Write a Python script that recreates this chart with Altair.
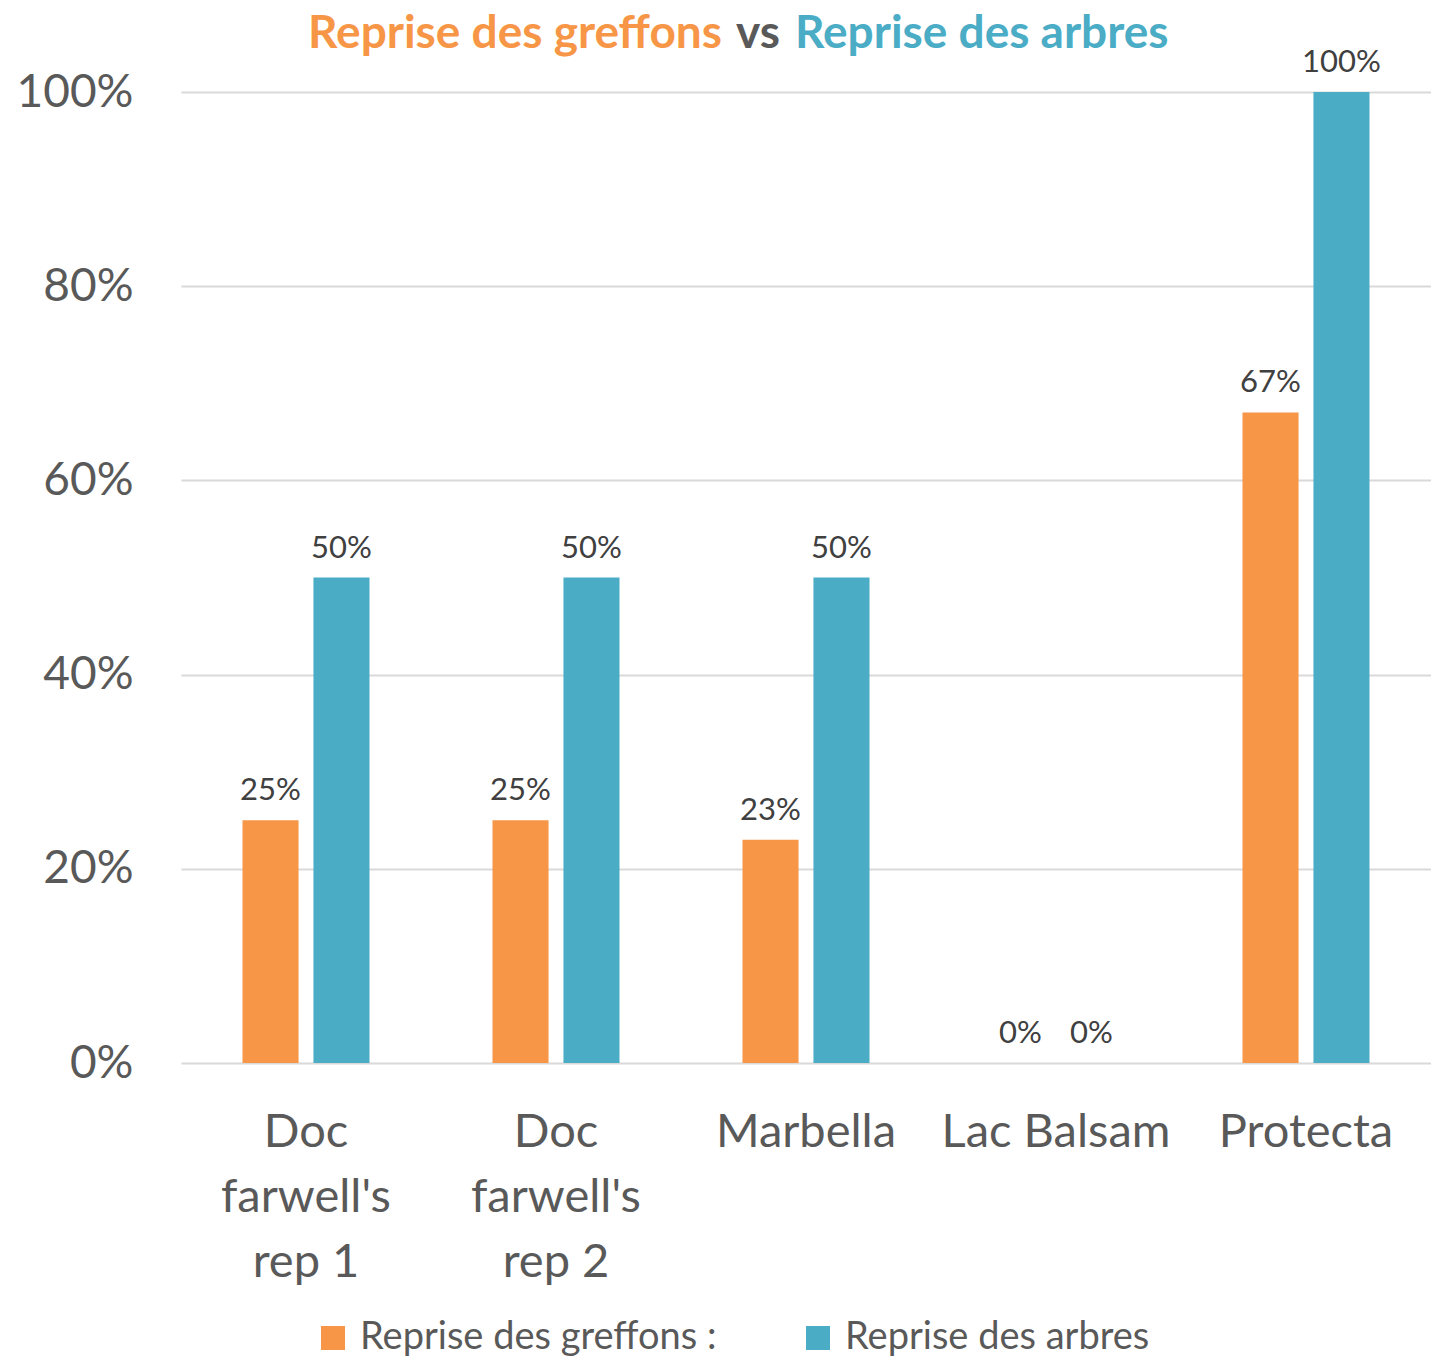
import altair as alt
import pandas as pd

categories = ["Doc farwell's rep 1", "Doc farwell's rep 2", "Marbella", "Lac Balsam", "Protecta"]
category_lines = [["Doc", "farwell's", "rep 1"], ["Doc", "farwell's", "rep 2"], ["Marbella"], ["Lac Balsam"], ["Protecta"]]
series = ["Reprise des greffons :", "Reprise des arbres"]
greffons = [0.25, 0.25, 0.23, 0.0, 0.67]
arbres = [0.50, 0.50, 0.50, 0.0, 1.00]
colors = ["#F79646", "#4BACC6"]
y_ticks = [0, 0.2, 0.4, 0.6, 0.8, 1.0]

rows = []
for c, g, a in zip(categories, greffons, arbres):
    rows.append({"cat": c, "serie": series[0], "val": g})
    rows.append({"cat": c, "serie": series[1], "val": a})
df = pd.DataFrame(rows)

FONT = "Lato"

# label expression for multi-line x labels
parts = []
for c, lines in zip(categories, category_lines):
    arr = "[" + ",".join('"' + l.replace('"', '\\"') + '"' for l in lines) + "]"
    parts.append('datum.value == "' + c.replace('"', '\\"') + '" ? ' + arr)
label_expr = " : ".join(parts) + " : datum.label"

pi = 0.492
x_enc = alt.X("cat:N", sort=categories,
              scale=alt.Scale(paddingInner=pi, paddingOuter=pi / 2),
              axis=alt.Axis(title=None, labelExpr=label_expr, labelFontSize=47, labelFont=FONT,
                            labelColor="#595959", labelLineHeight=65, labelPadding=46,
                            labelBaseline="top", ticks=False, domain=False, labelAngle=0,
                            labelLimit=400, grid=False))
xo_enc = alt.XOffset("serie:N", sort=series,
                     scale=alt.Scale(paddingInner=0.21, paddingOuter=0))
y_enc = alt.Y("val:Q", scale=alt.Scale(domain=[0, 1], nice=False),
              axis=alt.Axis(title=None, values=y_ticks, format=".0%", labelFontSize=46,
                            labelFont=FONT, labelColor="#595959", labelPadding=48,
                            ticks=False, domain=False, gridColor="#D9D9D9", gridWidth=2))

bars = alt.Chart(df).mark_bar().encode(
    x=x_enc, xOffset=xo_enc, y=y_enc,
    color=alt.Color("serie:N", sort=series,
                    scale=alt.Scale(domain=series, range=colors),
                    legend=alt.Legend(title=None, orient="none", direction="horizontal",
                                      legendX=133, legendY=1227, symbolType="square",
                                      symbolSize=576, symbolStrokeWidth=0, labelFontSize=38,
                                      labelFont=FONT, labelColor="#595959", columnPadding=82,
                                      labelOffset=8, labelLimit=500)),
)

labels = alt.Chart(df).mark_text(baseline="alphabetic", dy=-20, fontSize=31, font=FONT,
                                  color="#404040").encode(
    x=alt.X("cat:N", sort=categories),
    xOffset=alt.XOffset("serie:N", sort=series),
    y=alt.Y("val:Q"), text=alt.Text("val:Q", format=".0%"))

TY = -44
title_a = alt.Chart(pd.DataFrame({"t": ["Reprise des greffons"]})).mark_text(
    align="right", baseline="alphabetic", fontSize=46, fontWeight="bold", font=FONT,
    color=colors[0]).encode(text="t:N", x=alt.value(541), y=alt.value(TY))
title_b = alt.Chart(pd.DataFrame({"t": ["vs"]})).mark_text(
    align="center", baseline="alphabetic", fontSize=46, fontWeight="bold", font=FONT,
    color="#595959").encode(text="t:N", x=alt.value(577), y=alt.value(TY))
title_c = alt.Chart(pd.DataFrame({"t": ["Reprise des arbres"]})).mark_text(
    align="left", baseline="alphabetic", fontSize=46, fontWeight="bold", font=FONT,
    color=colors[1]).encode(text="t:N", x=alt.value(614), y=alt.value(TY))

chart = alt.layer(bars, labels, title_a, title_b, title_c).properties(
    width=1250, height=971,
    background="white",
    autosize=alt.AutoSizeParams(type="none"),
    padding={"left": 173, "top": 84, "right": 0, "bottom": 296},
).configure_view(stroke="transparent", strokeWidth=0).configure_axisX(grid=False)

chart.save("out.html", embed_options={"renderer": "svg", "actions": False})
